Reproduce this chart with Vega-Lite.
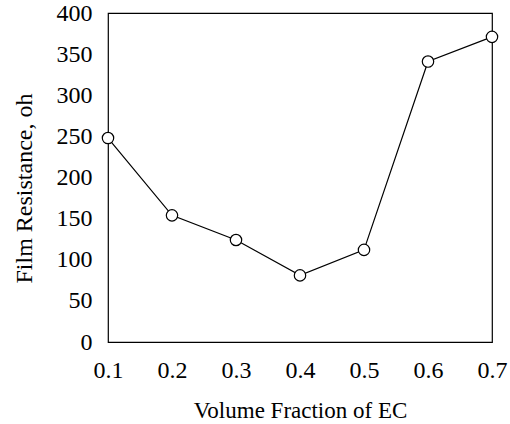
{
  "$schema": "https://vega.github.io/schema/vega-lite/v6.json",
  "width": 384,
  "height": 329,
  "autosize": "none",
  "padding": {"left": 108, "top": 13, "right": 18, "bottom": 82},
  "background": "white",
  "config": {
    "view": {"stroke": "black", "strokeWidth": 1.2},
    "font": "Liberation Serif",
    "axis": {
      "grid": false,
      "domain": false,
      "ticks": false,
      "labelFont": "Liberation Serif",
      "titleFont": "Liberation Serif",
      "labelColor": "black",
      "titleColor": "black",
      "labelFontSize": 24,
      "titleFontWeight": "normal",
      "labelFlush": false,
      "labelOverlap": false
    }
  },
  "data": {
    "values": [
      {"x": 0.1, "y": 248},
      {"x": 0.2, "y": 154},
      {"x": 0.3, "y": 124},
      {"x": 0.4, "y": 81},
      {"x": 0.5, "y": 112},
      {"x": 0.6, "y": 341},
      {"x": 0.7, "y": 371}
    ]
  },
  "encoding": {
    "x": {
      "field": "x",
      "type": "quantitative",
      "scale": {"domain": [0.1, 0.7], "nice": false, "zero": false},
      "axis": {
        "values": [0.1, 0.2, 0.3, 0.4, 0.5, 0.6, 0.7],
        "format": ".1f",
        "labelPadding": 16,
        "title": "Volume Fraction of EC",
        "titleFontSize": 23,
        "titlePadding": 17
      }
    },
    "y": {
      "field": "y",
      "type": "quantitative",
      "scale": {"domain": [0, 400], "nice": false},
      "axis": {
        "values": [0, 50, 100, 150, 200, 250, 300, 350, 400],
        "labelPadding": 16,
        "title": "Film Resistance, oh",
        "titleFontSize": 24,
        "titlePadding": 20,
        "titleY": 175
      }
    }
  },
  "layer": [
    {"mark": {"type": "line", "color": "black", "strokeWidth": 1.2}},
    {"mark": {"type": "point", "shape": "circle", "filled": false, "fill": "white", "fillOpacity": 1, "stroke": "black", "strokeWidth": 1.2, "size": 130, "opacity": 1}}
  ]
}
